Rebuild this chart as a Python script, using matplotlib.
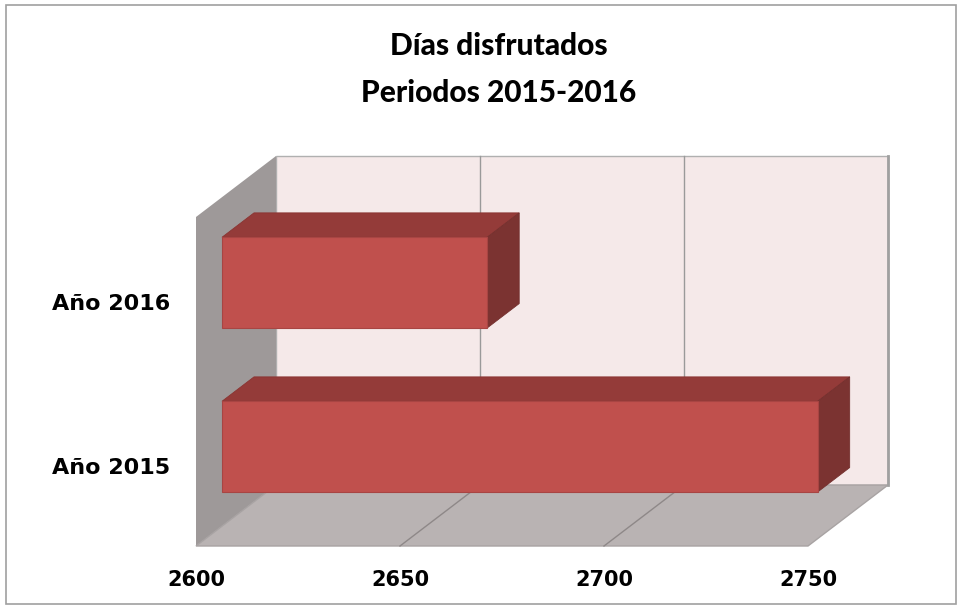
import matplotlib.pyplot as plt
from matplotlib.patches import Polygon, Rectangle

# Datos
categorias = ['Año 2015', 'Año 2016']
dias = [2746, 2665]
ticks_x = [2600, 2650, 2700, 2750]

fig = plt.figure(figsize=(9.62, 6.08), dpi=100)
W, H = 962, 608

# borde del grafico
fig.patches.append(Rectangle((6 / W, 4 / H), 950 / W, 599 / H, transform=fig.transFigure,
                             fill=False, edgecolor='#a0a0a0', linewidth=1.2))

fig.text(499 / W, 1 - 46 / H, 'Días disfrutados', ha='center', va='center',
         fontsize=21.5, fontweight='black', family='Lato')
fig.text(499 / W, 1 - 93 / H, 'Periodos 2015-2016', ha='center', va='center',
         fontsize=21.5, fontweight='black', family='Lato')

# plano frontal del eje: x 196..808 px, y 217..546 px
ax = fig.add_axes([196 / W, 1 - 546 / H, 612 / W, 329 / H])
ax.set_xlim(2600, 2750)
ax.set_ylim(-0.485, 1.521)
y0, y1 = ax.get_ylim()
x0, x1 = ax.get_xlim()

DX, DY = 80, 61  # profundidad en pixeles


def proj(x, y, f):
    px, py = ax.transData.transform((x, y))
    return ax.transData.inverted().transform((px + DX * f, py + DY * f))


def poly(pts, z=1, **kw):
    ax.add_patch(Polygon([proj(*p) for p in pts], closed=True, clip_on=False,
                         zorder=z, **kw))


# pared del fondo
poly([(x0, y0, 1), (x1, y0, 1), (x1, y1, 1), (x0, y1, 1)],
     facecolor='#f5e9e9', edgecolor='#b0b0b0', linewidth=1)
# pared lateral
poly([(x0, y0, 0), (x0, y0, 1), (x0, y1, 1), (x0, y1, 0)],
     facecolor='#9e9999', edgecolor='none')
# suelo
poly([(x0, y0, 0), (x1, y0, 0), (x1, y0, 1), (x0, y0, 1)],
     facecolor='#b9b3b3', edgecolor='#a8a3a3', linewidth=1)

# lineas de division
for t in ticks_x[1:-1]:
    a, b = proj(t, y0, 1), proj(t, y1, 1)
    ax.plot([a[0], b[0]], [a[1], b[1]], color='#9a9a9a', lw=1, clip_on=False, zorder=2)
    a, b = proj(t, y0, 0), proj(t, y0, 1)
    ax.plot([a[0], b[0]], [a[1], b[1]], color='#8e8888', lw=1, clip_on=False, zorder=2)
a, b = proj(x1, y0, 1), proj(x1, y1, 1)
ax.plot([a[0], b[0]], [a[1], b[1]], color='#a0a0a0', lw=2, clip_on=False, zorder=2)

# barras 3D
alto = 0.553
f0, f1 = 0.325, 0.725
for i, v in enumerate(dias):
    yb, yt = i - alto / 2, i + alto / 2
    poly([(x0, yt, f0), (v, yt, f0), (v, yt, f1), (x0, yt, f1)], z=3,
         facecolor='#943b39', edgecolor='#8a3432', linewidth=0.6)
    poly([(v, yb, f0), (v, yt, f0), (v, yt, f1), (v, yb, f1)], z=3,
         facecolor='#7b3331', edgecolor='#74302e', linewidth=0.6)
    poly([(x0, yb, f0), (v, yb, f0), (v, yt, f0), (x0, yt, f0)], z=4,
         facecolor='#c0504d', edgecolor='#a84543', linewidth=0.8)

ax.set_xticks(ticks_x)
ax.set_xticklabels([str(t) for t in ticks_x], fontsize=15, fontweight='bold')
ax.set_yticks(range(len(categorias)))
ax.set_yticklabels(categorias, fontsize=16, fontweight='bold')
ax.tick_params(axis='x', length=0, pad=17)
ax.tick_params(axis='y', length=0, pad=18.5)
for s in ax.spines.values():
    s.set_visible(False)
ax.patch.set_visible(False)

fig.savefig('out.png', dpi=100)
